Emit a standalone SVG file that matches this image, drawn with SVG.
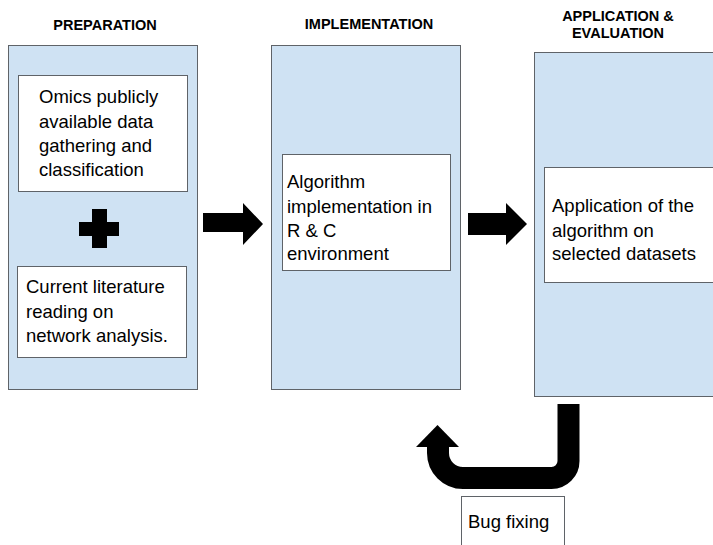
<svg xmlns="http://www.w3.org/2000/svg" width="713" height="545" viewBox="0 0 713 545">
<style>
.panel{fill:#cfe2f3;stroke:#5f6368;stroke-width:1}
.box{fill:#ffffff;stroke:#5f6368;stroke-width:1}
.t{font-family:"Liberation Sans",Arial,sans-serif;font-size:18.5px;fill:#000}
.h{font-family:"Liberation Sans",Arial,sans-serif;font-size:14.5px;font-weight:bold;fill:#000;text-anchor:middle}
.blk{fill:#000}
</style>
<rect width="713" height="545" fill="#ffffff"/>
<g id="preparation">
<text class="h" x="105" y="30">PREPARATION</text>
<rect class="panel" x="8.5" y="45.5" width="189" height="344"/>
<g id="omics">
<rect class="box" x="18.5" y="75.5" width="169" height="116"/>
<text class="t" x="39" y="103">Omics publicly</text>
<text class="t" x="39" y="128">available data</text>
<text class="t" x="39" y="152">gathering and</text>
<text class="t" x="39" y="176">classification</text>
</g>
<g id="plus">
<rect class="blk" x="92" y="209" width="15" height="39"/>
<rect class="blk" x="79" y="222" width="40" height="14"/>
</g>
<g id="literature">
<rect class="box" x="17.5" y="266.5" width="169" height="91"/>
<text class="t" x="26" y="293">Current literature</text>
<text class="t" x="26" y="318">reading on</text>
<text class="t" x="26" y="342">network analysis.</text>
</g>
</g>
<g id="implementation">
<text class="h" x="369" y="29">IMPLEMENTATION</text>
<rect class="panel" x="271.5" y="45.5" width="189" height="344"/>
<g id="algorithm">
<rect class="box" x="282.5" y="154.5" width="168" height="116"/>
<text class="t" x="287" y="188">Algorithm</text>
<text class="t" x="287" y="213">implementation in</text>
<text class="t" x="287" y="237">R &amp; C</text>
<text class="t" x="287" y="260">environment</text>
</g>
</g>
<g id="application">
<text class="h" x="618" y="21">APPLICATION &amp;</text>
<text class="h" x="618" y="38">EVALUATION</text>
<rect class="panel" x="534.5" y="52.5" width="190" height="344"/>
<g id="apply">
<rect class="box" x="544.5" y="167.5" width="180" height="115"/>
<text class="t" x="552" y="212">Application of the</text>
<text class="t" x="552" y="237">algorithm on</text>
<text class="t" x="552" y="260">selected datasets</text>
</g>
</g>
<g id="bugfix">
<rect class="box" x="461.5" y="496.5" width="103" height="60"/>
<text class="t" x="468" y="528">Bug fixing</text>
</g>
<g id="connectors">
<polygon class="blk" points="203,213 243,213 243,203 263,224 243,245 243,232 203,232"/>
<polygon class="blk" points="468,213 506,213 506,203 527,224 506,245 506,235 468,235"/>
<path d="M568.5,404 V461 A17,17 0 0 1 551.5,478 H463 A25,25 0 0 1 438,453 V446" fill="none" stroke="#000" stroke-width="22"/>
<polygon class="blk" points="416,447 459,447 437.5,425"/>
</g>
</svg>
